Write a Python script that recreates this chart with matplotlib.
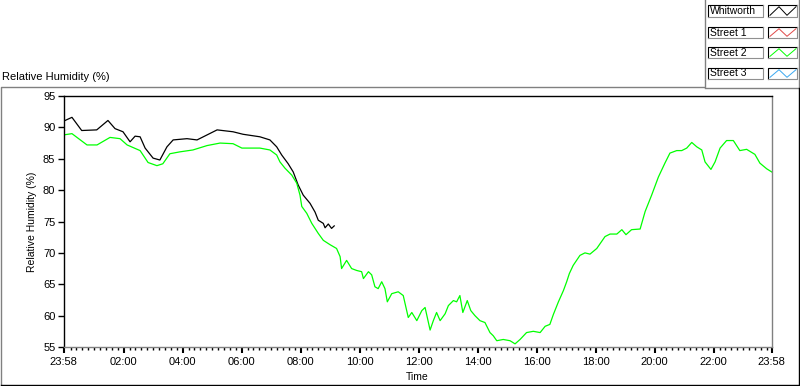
import matplotlib.pyplot as plt
from matplotlib.lines import Line2D
from matplotlib.patches import Rectangle
import numpy as np

plt.rcParams['font.family'] = ['Liberation Sans', 'DejaVu Sans']

# hours since 23:58 (start of record)
whit_t = [0.0, 0.28, 0.61, 1.12, 1.50, 1.74, 2.01, 2.25, 2.42, 2.59, 2.76, 3.03,
          3.26, 3.50, 3.71, 4.18, 4.52, 4.86, 5.20, 5.74, 6.08, 6.65, 6.99, 7.22,
          7.39, 7.61, 7.78, 7.95, 8.12, 8.35, 8.52, 8.63, 8.80, 8.86, 8.97, 9.08, 9.17]
whit_rh = [91.0, 91.6, 89.5, 89.6, 91.1, 89.8, 89.3, 87.7, 88.6, 88.5, 86.7, 85.1,
           84.8, 86.9, 88.0, 88.2, 88.0, 88.8, 89.6, 89.3, 88.9, 88.5, 88.0, 86.9,
           85.6, 84.2, 82.9, 80.8, 79.2, 77.9, 76.5, 75.2, 74.7, 74.0, 74.6, 73.9, 74.3]

st2_t = [0.0, 0.28, 0.79, 1.13, 1.57, 1.91, 2.15, 2.59, 2.86, 3.16, 3.36, 3.60,
         3.94, 4.38, 4.86, 5.30, 5.74, 6.04, 6.65, 6.99, 7.22, 7.33, 7.50, 7.73,
         7.90, 8.01, 8.07, 8.24, 8.41, 8.63, 8.80, 9.03, 9.25, 9.37, 9.42, 9.59,
         9.76, 9.93, 10.10, 10.16, 10.33, 10.44, 10.55, 10.66, 10.78, 10.89, 10.97,
         11.12, 11.34, 11.51, 11.68, 11.80, 11.97, 12.14, 12.25, 12.42, 12.53, 12.64,
         12.76, 12.93, 13.04, 13.21, 13.32, 13.43, 13.53, 13.68, 13.80, 13.94, 14.11,
         14.28, 14.45, 14.56, 14.68, 14.90, 15.13, 15.30, 15.47, 15.69, 15.92, 16.15,
         16.32, 16.48, 16.60, 16.77, 16.94, 17.05, 17.14, 17.27, 17.50, 17.67, 17.84,
         18.07, 18.35, 18.52, 18.75, 18.92, 19.06, 19.25, 19.54, 19.71, 19.93, 20.16,
         20.38, 20.55, 20.78, 20.95, 21.12, 21.29, 21.46, 21.63, 21.74, 21.94, 22.08,
         22.25, 22.47, 22.70, 22.92, 23.15, 23.43, 23.60, 23.83, 24.0]
st2_rh = [88.8, 89.0, 87.2, 87.2, 88.4, 88.2, 87.2, 86.3, 84.4, 83.9, 84.2, 85.8,
          86.1, 86.4, 87.1, 87.5, 87.4, 86.7, 86.7, 86.4, 85.6, 84.5, 83.5, 82.4,
          81.1, 79.2, 77.4, 76.3, 74.7, 73.1, 72.0, 71.3, 70.7, 69.4, 67.5, 68.8,
          67.5, 67.2, 67.0, 65.9, 67.0, 66.5, 64.6, 64.3, 65.4, 64.3, 62.2,
          63.5, 63.8, 63.2, 59.7, 60.5, 59.2, 60.8, 61.3, 57.7, 59.2, 60.5,
          59.2, 60.3, 61.6, 62.4, 62.2, 63.2, 60.5, 62.4, 60.8, 60.0, 59.2,
          58.9, 57.3, 56.8, 56.0, 56.2, 56.0, 55.5, 56.2, 57.3, 57.5, 57.3,
          58.3, 58.6, 60.2, 62.2, 64.0, 65.4, 66.7, 68.0, 69.6, 70.0, 69.8,
          70.7, 72.6, 73.0, 73.0, 73.7, 72.9, 73.7, 73.8, 76.6, 79.2, 82.1,
          84.3, 85.9, 86.3, 86.3, 86.7, 87.6, 86.9, 86.4, 84.5, 83.3, 84.5,
          86.7, 87.9, 87.9, 86.3, 86.5, 85.7, 84.3, 83.4, 82.9]

series_names = ["Whitworth", "Street 1", "Street 2", "Street 3"]
series_colors = ["#000000", "#e04848", "#00ff00", "#3aa8f0"]

tick_hours = [0.0] + [2.0333 + 2 * k for k in range(11)] + [24.0]
tick_labels = ["23:58", "02:00", "04:00", "06:00", "08:00", "10:00", "12:00",
               "14:00", "16:00", "18:00", "20:00", "22:00", "23:58"]

W, H = 800, 386
fig = plt.figure(figsize=(W / 100, H / 100), dpi=100)
fig.patch.set_facecolor("white")


def fx(x):
    return x / W


def fy(y):
    return 1 - y / H


def fline(xs, ys, color, lw=1.0):
    fig.add_artist(Line2D([fx(v) for v in xs], [fy(v) for v in ys],
                          color=color, lw=lw, transform=fig.transFigure))


# outer frame (sunken look)
fline([1, 1, 704], [385, 87, 87], "#808080")
fline([705, 705], [87, 0], "#808080")
fline([705, 798], [88, 88], "#808080")
fline([798.5, 798.5], [0, 88], "#808080")
fline([1, 798.5, 798.5], [385, 385, 88], "#000000")

ax = fig.add_axes([fx(63.7), fy(347), fx(771.7) - fx(63.7), fy(96) - fy(347)])
ax.plot(whit_t, whit_rh, color=series_colors[0], lw=0.9)
ax.plot(st2_t, st2_rh, color=series_colors[2], lw=0.9)

ax.set_xlim(0, 24)
ax.set_ylim(55, 95)
ax.set_yticks(np.arange(55, 96, 5))
ax.set_xticks(tick_hours)
ax.set_xticklabels(tick_labels)
minor = [t for t in np.arange(2.0333 - 0.2 * 10, 24, 0.2) if 0.1 < t < 23.9]
ax.set_xticks(minor, minor=True)

for s in ["left", "top"]:
    ax.spines[s].set_color("black")
for s in ["right", "bottom"]:
    ax.spines[s].set_color("#808080")
for s in ax.spines.values():
    s.set_linewidth(1.0)

ax.tick_params(axis="y", length=4, width=1, pad=2, labelsize=8, color="black")
ax.tick_params(axis="x", which="major", length=4, width=1.5, pad=3, labelsize=8)
ax.tick_params(axis="x", which="minor", length=2, width=1)

ax.set_xlabel("Time", fontsize=7.5, labelpad=4)
ax.set_ylabel("Relative Humidity (%)", fontsize=7.5, labelpad=4)
fig.text(fx(2), fy(77), "Relative Humidity (%)", fontsize=8, va="center", ha="left")

# legend boxes
rows = [(4.7, 17.3), (26.7, 38.3), (46.7, 58.3), (67.7, 79.3)]
for name, color, (y0, y1) in zip(series_names, series_colors, rows):
    for x0, x1 in [(708, 763), (768, 797)]:
        fig.add_artist(Rectangle((fx(x0), fy(y1)), fx(x1) - fx(x0), fy(y0) - fy(y1),
                                 transform=fig.transFigure, facecolor="white",
                                 edgecolor="none"))
        fline([x0, x0, x1], [y1, y0, y0], "#000000", lw=0.8)
        fline([x0, x1, x1], [y1, y1, y0], "#909090", lw=0.8)
    fig.text(fx(710), fy((y0 + y1) / 2), name, fontsize=7.5, va="center", ha="left")
    fline([770, 779, 787, 796], [y1 - 2, y0 + 2, y1 - 2, y0 + 2], color, lw=0.7)

fig.savefig("out.png", dpi=100)
